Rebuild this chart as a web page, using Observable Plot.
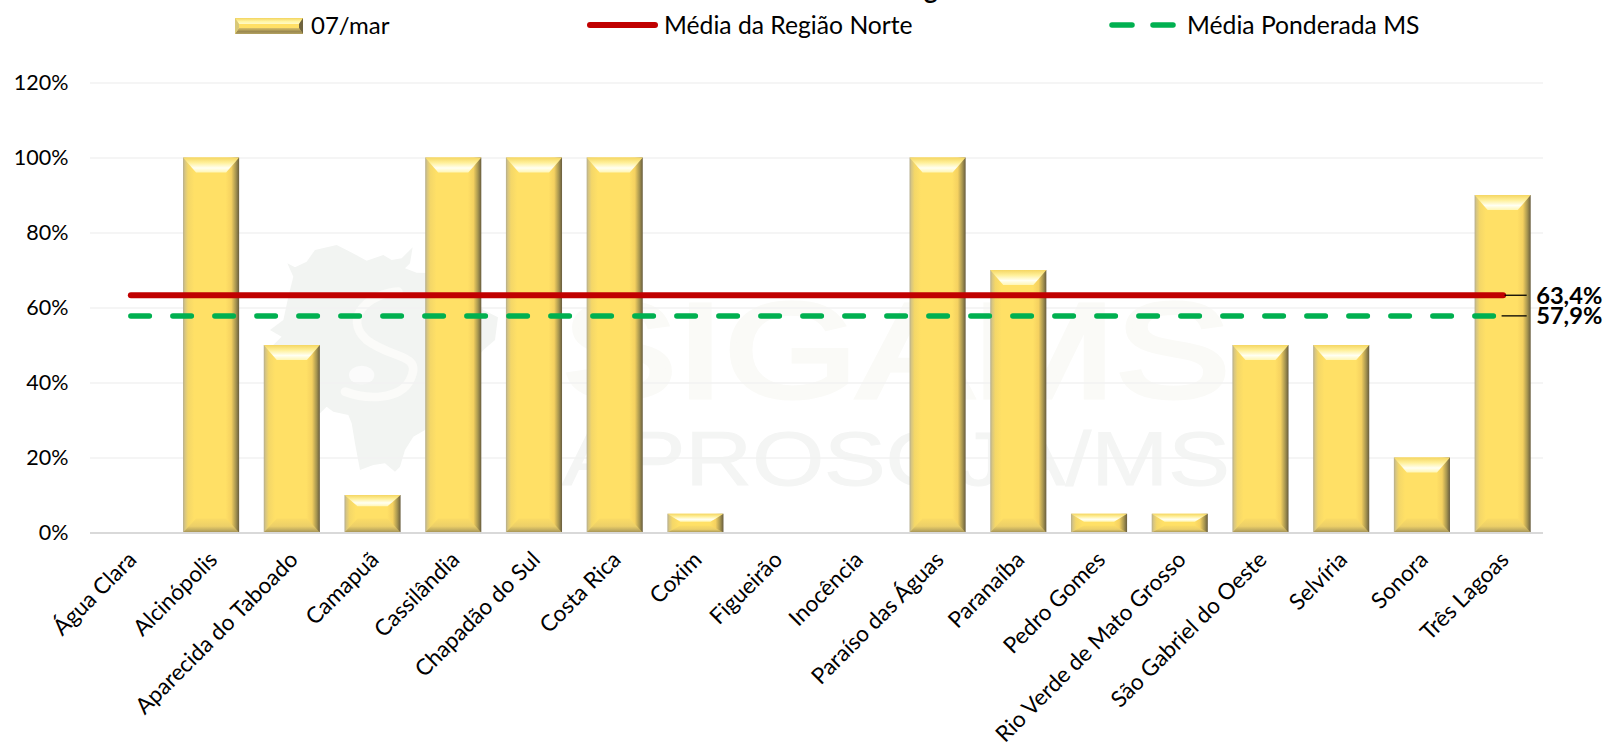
<!DOCTYPE html>
<html lang="pt">
<head>
<meta charset="utf-8">
<title>Gráfico</title>
<script src="https://cdn.jsdelivr.net/npm/d3@7"></script>
<script src="https://cdn.jsdelivr.net/npm/@observablehq/plot@0.6"></script>
<style>
  html, body { margin: 0; padding: 0; background: #fff; overflow: hidden; }
  #page { position: relative; width: 1603px; height: 744px; overflow: hidden; font-family: Lato, sans-serif; color: #000; }
  #wm { position: absolute; left: 0; top: 0; width: 1603px; height: 744px; z-index: 0; }
  #head { position: relative; height: 50px; z-index: 2; }
  #head .t { position: absolute; top: 25px; transform: translateY(-50%); font-size: 24.7px; white-space: nowrap; line-height: 1; }
  #head svg { position: absolute; left: 0; top: 0; }
  #clipped { position: absolute; left: 924px; top: -24px; font-size: 26px; font-weight: 700; line-height: 1; }
  #chart { position: relative; z-index: 1; }
  #chart svg { display: block; }
</style>
</head>
<body>
<div id="page">
  <svg id="wm" viewBox="0 0 1603 744" aria-hidden="true">
    <g transform="translate(270,230) scale(.3333)">
      <path fill="#f2f4f2" d="M52,100 L75,112 L110,95 L135,60 L200,45 L240,65 L290,92 L340,75 L365,90 L395,85 L428,52 L420,100 L405,115 L440,128 L520,130 L600,180 L640,240 L684,262 L675,330 L640,360 L590,420 L520,540 L465,600 L430,620 L405,660 L390,710 L375,725 L345,700 L310,705 L270,720 L255,640 L245,580 L235,555 L190,545 L170,530 L150,550 L120,520 L80,470 L30,420 L10,345 L35,320 L0,300 L40,270 L55,200 L70,140 Z"/>
      <path fill="none" stroke="#fbfbf9" stroke-width="26" stroke-linecap="round" d="M385,185 C300,190 215,260 290,330 C370,390 460,370 420,450 C390,510 290,510 225,485"/>
      <ellipse cx="275" cy="435" rx="38" ry="28" fill="#fbfbfb"/>
    </g>
    <text x="562" y="397" font-family="Liberation Sans" font-size="134" fill="#fafaf7" stroke="#fafaf7" stroke-width="5" textLength="668" lengthAdjust="spacingAndGlyphs">SIGAMS</text>
    <text x="562" y="485" font-family="Liberation Sans" font-size="76" fill="#f4f5f4" stroke="#f4f5f4" stroke-width="1" textLength="668" lengthAdjust="spacingAndGlyphs">APROSOJA/MS</text>
  </svg>
  <div id="head">
    <div id="clipped">g</div>
    <svg width="1603" height="50" aria-hidden="true">
      <defs>
        <linearGradient id="lgTop" x1="0" y1="0" x2="0" y2="1"><stop offset="0" stop-color="#f3d45e"/><stop offset=".6" stop-color="#fff7a8"/><stop offset="1" stop-color="#fff9c8"/></linearGradient>
        <linearGradient id="lgBot" x1="0" y1="0" x2="0" y2="1"><stop offset="0" stop-color="#d8c068"/><stop offset=".6" stop-color="#9a8850"/><stop offset="1" stop-color="#b5a361"/></linearGradient>
      </defs>
      <rect x="235" y="18" width="68" height="16" fill="#ffe066"/>
      <polygon points="235,18 303,18 299,24 239,24" fill="url(#lgTop)"/>
      <polygon points="235,34 303,34 299,28 239,28" fill="url(#lgBot)"/>
      <polygon points="235,18 239,24 239,28 235,34" fill="#d8c878"/>
      <polygon points="303,18 299,24 299,28 303,34" fill="#6f6440"/>
      <line x1="590" y1="25" x2="655" y2="25" stroke="#c00000" stroke-width="6" stroke-linecap="round"/>
      <line x1="1112" y1="25" x2="1132" y2="25" stroke="#00b050" stroke-width="5.5" stroke-linecap="round"/>
      <line x1="1153" y1="25" x2="1173" y2="25" stroke="#00b050" stroke-width="5.5" stroke-linecap="round"/>
    </svg>
    <span class="t" style="left:311px;font-size:24px">07/mar</span>
    <span class="t" style="left:664px">Média da Região Norte</span>
    <span class="t" style="left:1187px">Média Ponderada MS</span>
  </div>
  <div id="chart"></div>
</div>
<script>
const municipios = ["Água Clara","Alcinópolis","Aparecida do Taboado","Camapuã","Cassilândia","Chapadão do Sul","Costa Rica","Coxim","Figueirão","Inocência","Paraíso das Águas","Paranaíba","Pedro Gomes","Rio Verde de Mato Grosso","São Gabriel do Oeste","Selvíria","Sonora","Três Lagoas"];
const valores0703 = [0,100,50,10,100,100,100,5,0,0,100,70,5,5,50,50,20,90];
const mediaNorte = 63.4;
const mediaMS = 57.9;
const yTicks = [0,20,40,60,80,100,120];
const rotulos = ["63,4%","57,9%"];

const NS = "http://www.w3.org/2000/svg";
const defsMark = () => {
  const g = document.createElementNS(NS, "g");
  g.innerHTML = `<defs>
    <linearGradient id="barBody" x1="0" y1="0" x2="1" y2="0">
      <stop offset="0" stop-color="#b5ad8c"/><stop offset=".035" stop-color="#d8c680"/><stop offset=".09" stop-color="#f4d768"/><stop offset=".2" stop-color="#ffe066"/>
      <stop offset=".76" stop-color="#ffe066"/><stop offset=".86" stop-color="#f5d160"/><stop offset=".94" stop-color="#a89650"/><stop offset="1" stop-color="#675c3e"/>
    </linearGradient>
    <linearGradient id="barTop" x1="0" y1="0" x2="0" y2="1">
      <stop offset="0" stop-color="#f5d662"/><stop offset=".35" stop-color="#fff09a"/><stop offset=".7" stop-color="#fffff2"/><stop offset="1" stop-color="#fff6b4"/>
    </linearGradient>
    <linearGradient id="barBottom" x1="0" y1="0" x2="0" y2="1">
      <stop offset="0" stop-color="#fbdc66"/><stop offset=".55" stop-color="#eccf68"/><stop offset=".85" stop-color="#bda95f"/><stop offset="1" stop-color="#a39155"/>
    </linearGradient>
  </defs>`;
  return g;
};

const bevel = (index, scales, values, dimensions, context, next) => {
  const g = next(index, scales, values, dimensions, context);
  g.querySelectorAll("rect").forEach(r => {
    const x = +r.getAttribute("x"), y = +r.getAttribute("y"),
          w = +r.getAttribute("width"), h = +r.getAttribute("height");
    if (!(h > 0)) return;
    const iw = w * 13 / 56;
    const top = Math.min(15, Math.max(8, h * 0.3)), bot = Math.min(14, h * 0.38);
    const poly = (pts, fill) => {
      const p = document.createElementNS(NS, "polygon");
      p.setAttribute("points", pts.map(q => q.join(",")).join(" "));
      p.setAttribute("fill", fill);
      g.appendChild(p);
    };
    poly([[x,y],[x+w,y],[x+w-iw,y+top],[x+iw,y+top]], "url(#barTop)");
    poly([[x,y+h],[x+w,y+h],[x+w-iw,y+h-bot],[x+iw,y+h-bot]], "url(#barBottom)");
  });
  return g;
};

const last = municipios[municipios.length - 1];
const plot = Plot.plot({
  width: 1603,
  height: 694,
  marginLeft: 90,
  marginRight: 60,
  marginTop: 32.5,
  marginBottom: 211.5,
  style: { background: "transparent", fontFamily: "Lato, sans-serif", fontSize: "21.5px", color: "#000" },
  x: { domain: municipios, round: false, paddingInner: 0.305, paddingOuter: 0.1525, label: null },
  y: { domain: [0, 120], label: null },
  marks: [
    defsMark,
    Plot.gridY(yTicks, { stroke: "#f2f2f2", strokeOpacity: 1, strokeWidth: 1.4 }),
    Plot.axisY(yTicks, { tickSize: 0, tickPadding: 22, tickFormat: d => d + "%", fill: "#000", label: null }),
    Plot.axisX(municipios, { tickSize: 0, tickRotate: -45, tickPadding: 23, dx: 2, fill: "#000", label: null, fontSize: 22.5 }),
    Plot.barY(municipios, { x: municipios, y: valores0703, fill: "url(#barBody)", render: bevel }),
    Plot.ruleY([0], { stroke: "#d9d9d9", strokeWidth: 2 }),
    Plot.line(municipios, { x: municipios, y: municipios.map(() => mediaNorte), stroke: "#c00000", strokeWidth: 6, strokeLinecap: "round" }),
    Plot.line(municipios, { x: municipios, y: municipios.map(() => mediaMS), stroke: "#00b050", strokeWidth: 5.5, strokeLinecap: "round", strokeDasharray: "18.5 23.5" }),
    Plot.tickY([mediaNorte], { x: () => last, stroke: "#000", strokeWidth: 1.3, insetLeft: 30, insetRight: 4 }),
    Plot.tickY([mediaMS], { x: () => last, stroke: "#000", strokeWidth: 1.3, insetLeft: 27, insetRight: 4 }),
    Plot.text([mediaNorte, mediaMS], { x: () => last, y: d => d, text: (d, i) => rotulos[i], dx: 33, dy: 1, textAnchor: "start", fontWeight: 700, fontSize: 23.7, fill: "#000" })
  ]
});
document.getElementById("chart").appendChild(plot);
</script>
</body>
</html>
